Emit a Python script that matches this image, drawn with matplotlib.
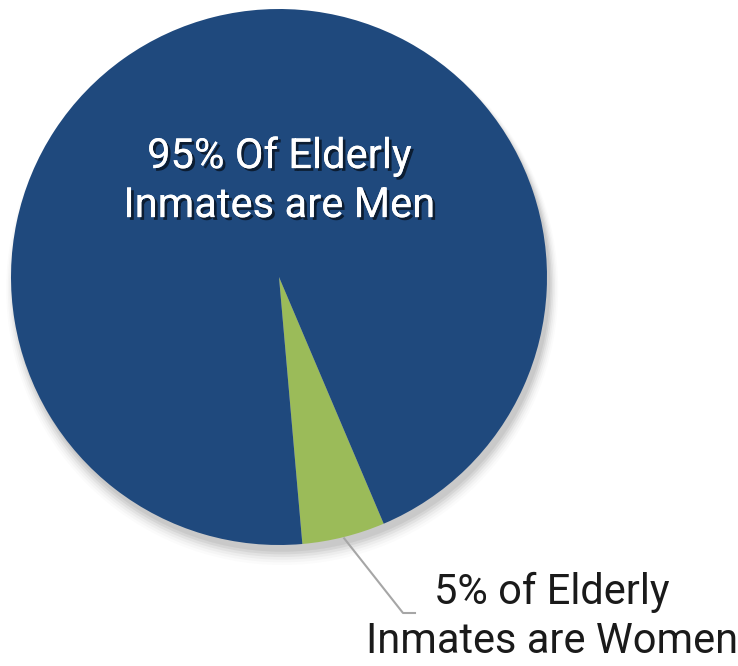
import numpy as np
import matplotlib
matplotlib.use("Agg")
import matplotlib.pyplot as plt
import matplotlib.patheffects as pe
from matplotlib.patches import Circle

# data
labels = ["5% of Elderly\nInmates are Women", "95% Of Elderly\nInmates are Men"]
shares = [5, 95]
colors = ["#9BBB59", "#1F497D"]

plt.rcParams['font.family'] = ['Roboto', 'Liberation Sans', 'DejaVu Sans']

W, H = 738, 666
fig = plt.figure(figsize=(W / 100, H / 100), dpi=100)
ax = fig.add_axes([0, 0, 1, 1])

# pixel geometry of the pie in the reference
cx, cy, r_px = 279, 277, 268

# soft shadow under the pie
for i, a in enumerate(np.linspace(0.06, 0.015, 6)):
    ax.add_patch(Circle((0.012, -0.025 - i * 0.004), 1.0 + i * 0.006,
                        color='black', alpha=a, lw=0, zorder=0))

wedges, _ = ax.pie(shares, colors=colors, startangle=-85, counterclock=True,
                   radius=1.0, center=(0, 0), frame=True,
                   wedgeprops=dict(linewidth=0))
for w in wedges:
    w.set_zorder(2)
ax.set_xlim(-cx / r_px, (W - cx) / r_px)
ax.set_ylim(-(H - cy) / r_px, cy / r_px)
ax.set_aspect('equal')
ax.axis('off')

# label inside the big slice
ax.text(0, (cy - 181) / r_px, labels[1], ha='center', va='center',
        fontsize=30, color='white', linespacing=1.25, zorder=5,
        path_effects=[pe.withSimplePatchShadow(offset=(2, -2), shadow_rgbFace='black', alpha=0.6),
                      pe.Normal()])

# leader line for the small slice
w = wedges[0]
mid = np.deg2rad((w.theta1 + w.theta2) / 2)
x0, y0 = np.cos(mid) * 1.005, np.sin(mid) * 1.005
xe, ye = (403 - cx) / r_px, -(613 - cy) / r_px
xh = (415 - cx) / r_px
ax.plot([x0, xe, xh], [y0, ye, ye], color='#A6A6A6', lw=1.5, zorder=1)

ax.text((552 - cx) / r_px, -(617 - cy) / r_px, labels[0], ha='center', va='center',
        fontsize=30, color='#1A1A1A', linespacing=1.25, zorder=5)

fig.savefig("out.png", dpi=100)
